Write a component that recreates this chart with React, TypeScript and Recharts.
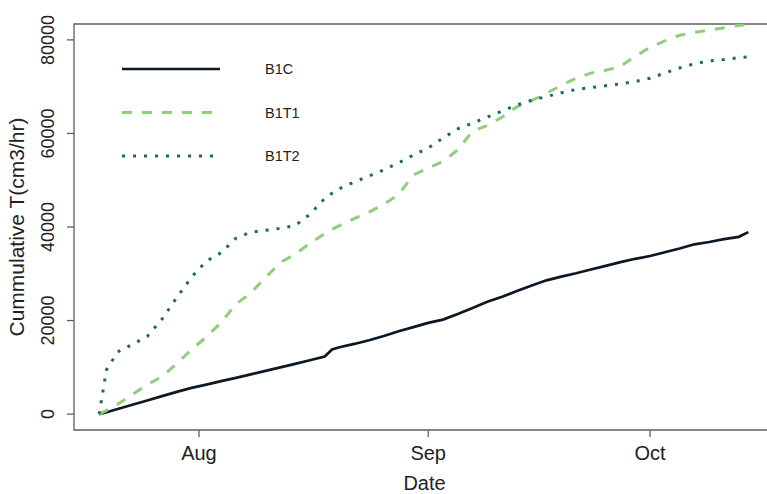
import React from 'react';
import { LineChart, Line, XAxis, YAxis, ReferenceArea, Legend } from 'recharts';

// days counted from Jul 1 (Aug 1 = 31, Sep 1 = 62, Oct 1 = 92)
const days = [
  17.5, 18.5, 20, 22, 24, 26, 28, 30, 32, 34, 36, 38, 40, 42, 44, 46, 48, 49, 50, 52, 54, 56, 58, 60,
  62, 64, 66, 68, 70, 72, 74, 76, 78, 80, 82, 84, 86, 88, 90, 92, 94, 96, 98, 100, 102, 104, 105.3,
];

const b1c = [
  0, 400, 1100, 2000, 2900, 3850, 4750, 5600, 6300, 7050, 7750, 8500, 9250, 10000, 10750, 11500, 12300, 13800, 14300, 15000, 15800, 16700, 17700, 18600,
  19500, 20200, 21400, 22700, 24000, 25100, 26300, 27500, 28600, 29400, 30100, 30900, 31700, 32500, 33200, 33800, 34600, 35400, 36300, 36800, 37400, 37900, 38900,
];

const b1t1 = [
  0, 800, 2100, 4200, 6300, 8000, 10800, 13800, 16500, 19600, 23500, 25900, 29200, 32400, 34200, 36500, 38600, 39500, 40300, 41800, 43200, 44800, 47000, 51100,
  52600, 54000, 56500, 60500, 61700, 63500, 65700, 67000, 68600, 70300, 71800, 72900, 73500, 74300, 76500, 78400, 79800, 81000, 81600, 82100, 82600, 83100, 83300,
];

const b1t2 = [
  0, 9500, 13300, 14900, 16600, 20300, 24900, 29300, 32700, 34500, 37600, 38900, 39300, 39700, 40300, 42700, 46100, 47200, 48200, 49600, 50900, 52200, 53700, 55400,
  56900, 59000, 61000, 62200, 63500, 64800, 66100, 67100, 67900, 68700, 69400, 69800, 70200, 70600, 71100, 71800, 72900, 74000, 74900, 75500, 75800, 76200, 76400,
];

const monthTicks = [31, 62, 92];
const monthLabels = ['Aug', 'Sep', 'Oct'];
const yTicks = [0, 20000, 40000, 60000, 80000];

const series = [
  { key: 'B1C', color: '#0c1824', width: 2.7, dash: undefined },
  { key: 'B1T1', color: '#8fce7c', width: 3, dash: '10 10' },
  { key: 'B1T2', color: '#1f6a60', width: 3, dash: '3 8' },
];

const data = days.map((d, i) => ({ day: d, B1C: b1c[i], B1T1: b1t1[i], B1T2: b1t2[i] }));

const sans = "'Liberation Sans', Arial, sans-serif";
const narrow = "'Liberation Sans Narrow', 'Arial Narrow', 'Liberation Sans', Arial, sans-serif";
const axisGray = '#5f5f5f';

const LegendBox = () => (
  <svg width={320} height={190}>
    {series.map((s, i) => {
      const y = 69 + i * 43.5;
      return (
        <g key={s.key}>
          <line x1={122} x2={220} y1={y} y2={y} stroke={s.color} strokeWidth={s.width} strokeDasharray={s.dash} />
          <text x={265} y={y + 5} fontSize={14.5} fontFamily={sans} fill="#222">{s.key}</text>
        </g>
      );
    })}
  </svg>
);

const YTick = ({ x, y, payload }: any) => (
  <g transform={`translate(${x}, ${y}) rotate(-90)`}>
    <text x={0} y={0} textAnchor="middle" fontSize={18} fontFamily={sans} fill="#222">{payload.value}</text>
  </g>
);

export default function App() {
  return (
    <div style={{ position: 'absolute', left: 0, top: 0, width: 767, height: 494, overflow: 'hidden', background: '#fff' }}>
      <LineChart width={800} height={494} data={data} margin={{ top: 24, right: 25, bottom: 0, left: 0 }}>
        <ReferenceArea x1={14.1} x2={108.9} y1={-3400} y2={83400} fill="none" stroke={axisGray} strokeWidth={1.3} fillOpacity={0} />
        <XAxis
          dataKey="day"
          type="number"
          domain={[14.1, 108.9]}
          allowDataOverflow
          ticks={monthTicks}
          tickFormatter={(v: number) => monthLabels[monthTicks.indexOf(v)]}
          axisLine={false}
          tickLine={{ stroke: axisGray, strokeWidth: 1.3 }}
          tickSize={7}
          tickMargin={9}
          height={64}
          tick={{ fill: '#222', fontSize: 20, fontFamily: narrow }}
          label={{
            content: ({ viewBox }: any) => (
              <text x={viewBox.x + viewBox.width / 2} y={490} textAnchor="middle" fontSize={20} fontFamily={narrow} fill="#222">Date</text>
            ),
          }}
        />
        <YAxis
          type="number"
          domain={[-3400, 83400]}
          allowDataOverflow
          ticks={yTicks}
          axisLine={false}
          tickLine={{ stroke: axisGray, strokeWidth: 1.3 }}
          tickSize={7}
          tickMargin={13}
          width={74}
          tick={<YTick />}
          label={{
            content: ({ viewBox }: any) => (
              <g transform={`translate(24, ${viewBox.y + viewBox.height / 2}) rotate(-90)`}>
                <text x={0} y={0} textAnchor="middle" fontSize={21} fontFamily={sans} fill="#222">Cummulative T(cm3/hr)</text>
              </g>
            ),
          }}
        />
        <Legend
          layout="horizontal"
          align="center"
          verticalAlign="middle"
          content={() => <LegendBox />}
          wrapperStyle={{ left: 0, top: 0, width: 320, height: 190 }}
        />
        {series.map((s) => (
          <Line
            key={s.key}
            dataKey={s.key}
            type="linear"
            stroke={s.color}
            strokeWidth={s.width}
            strokeDasharray={s.dash}
            dot={false}
            activeDot={false}
            isAnimationActive={false}
          />
        ))}
      </LineChart>
    </div>
  );
}
